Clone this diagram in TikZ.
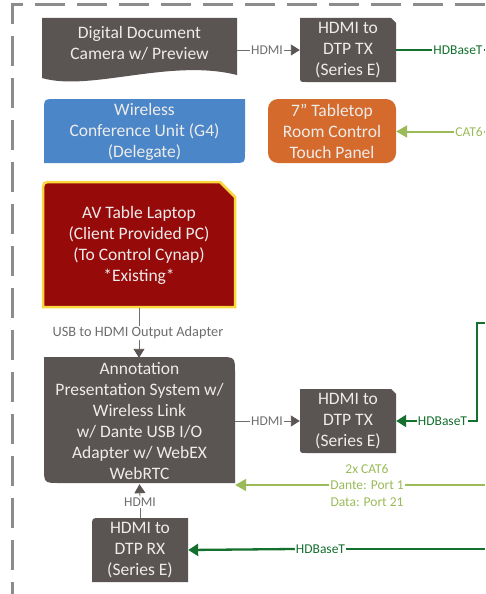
\documentclass[tikz,border=0pt]{standalone}
\usepackage{fontspec}
\setmainfont{Carlito}
\usetikzlibrary{arrows.meta,backgrounds}
\definecolor{boxgray}{RGB}{90,84,82}
\definecolor{boxblue}{RGB}{74,134,200}
\definecolor{boxorange}{RGB}{212,106,44}
\definecolor{boxred}{RGB}{150,10,10}
\definecolor{boxyellow}{RGB}{250,215,60}
\definecolor{boxtext}{RGB}{238,236,234}
\definecolor{labgray}{RGB}{110,110,110}
\definecolor{dgreen}{RGB}{20,112,45}
\definecolor{lgreen}{RGB}{155,187,89}
\definecolor{bordergray}{RGB}{140,140,140}
\tikzset{
  boxnode/.style={rectangle,inner sep=0pt,align=center,text=boxtext,
    font=\fontsize{17.5}{21}\selectfont},
  lab/.style={inner sep=1pt,text=labgray,font=\fontsize{13.5}{16.5}\selectfont},
  dglab/.style={inner sep=1pt,text=dgreen,font=\fontsize{13.5}{16.5}\selectfont},
  lglab/.style={inner sep=1pt,text=lgreen,font=\fontsize{13.5}{16.5}\selectfont},
  gline/.style={draw=labgray,line width=0.9pt},
  garrow/.style={gline,-{Triangle[length=9pt,width=11pt,color=boxgray]}},
  dgline/.style={draw=dgreen,line width=2.3pt},
  dgarrow/.style={dgline,-{Triangle[length=10pt,width=12pt]}},
  lgline/.style={draw=lgreen,line width=2pt},
  lgarrow/.style={lgline,-{Triangle[length=11pt,width=12pt]}},
  frame/.style={draw=bordergray,line width=3pt,dash pattern=on 30pt off 12pt}
}
\begin{document}
\begin{tikzpicture}[x=1pt,y=-1pt]
\useasboundingbox (0,0) rectangle (485,594);

% nodes
\node[boxnode,minimum width=195pt,minimum height=50pt] (cam) at (139.5,43) {Digital Document\\Camera w/ Preview};
\node[boxnode,minimum width=96pt,minimum height=64pt] (tx1) at (348,50) {HDMI to\\DTP TX\\(Series E)};
\node[boxnode,minimum width=201pt,minimum height=64pt] (wcu) at (144.5,132) {Wireless\\Conference Unit (G4)\\(Delegate)};
\node[boxnode,minimum width=128pt,minimum height=64pt] (tp) at (332,131.5) {7" Tabletop\\Room Control\\Touch Panel};
\node[boxnode,minimum width=192pt,minimum height=125pt] (laptop) at (139,245) {AV Table Laptop\\(Client Provided PC)\\(To Control Cynap)\\*Existing*};
\node[boxnode,minimum width=191pt,minimum height=126pt] (ann) at (139.5,421) {Annotation\\Presentation System w/\\Wireless Link\\w/ Dante USB I/O\\Adapter w/ WebEX\\WebRTC};
\node[boxnode,minimum width=96pt,minimum height=64pt] (tx2) at (348,421) {HDMI to\\DTP TX\\(Series E)};
\node[boxnode,minimum width=96pt,minimum height=64pt] (rx) at (140,550) {HDMI to\\DTP RX\\(Series E)};

% background and shapes behind the text
\begin{pgfonlayer}{background}
\fill[white] (0,0) rectangle (485,594);
\draw[frame] (485,5) -| (12,594);
\fill[boxgray] (42,18) -- (237,18) -- (237,75) .. controls (170,58) and (90,92) .. (42,78) -- cycle;
\fill[boxgray] (300,18) -- (391,18) -- (396,23) -- (396,82) -- (306,82) .. controls (300,82) .. (300,76) -- cycle;
\fill[boxblue] (44,111) .. controls (44,99) .. (56,99) -- (245,99) -- (245,151) .. controls (245,163) .. (233,163) -- (44,163) -- cycle;
\fill[boxorange,rounded corners=10pt] (268,99) rectangle (396,163);
\filldraw[fill=boxred,draw=boxyellow,line width=2.5pt] (43,192) .. controls (43,182) .. (53,182) -- (220,182) -- (235,197) -- (235,307) -- (43,307) -- cycle;
\fill[boxgray] (44,357) -- (219,357) .. controls (235,357) .. (235,373) -- (235,483) -- (60,483) .. controls (44,483) .. (44,467) -- cycle;
\fill[boxgray] (300,389) -- (391,389) -- (396,394) -- (396,453) -- (306,453) .. controls (300,453) .. (300,447) -- cycle;
\fill[boxgray] (92,526) .. controls (92,518) .. (100,518) -- (188,518) -- (188,582) -- (92,582) -- cycle;
\end{pgfonlayer}

% labels
\node[lab] (h1) at (267,50) {HDMI};
\node[dglab] (hb1) at (458,50) {HDBaseT};
\node[lglab] (cat) at (469,131.5) {CAT6};
\node[lab,font=\fontsize{14.3}{17}\selectfont] (usb) at (138,333) {USB to HDMI Output Adapter};
\node[lab] (h2) at (267,421) {HDMI};
\node[dglab] (hb2) at (442.5,421) {HDBaseT};
\node[lglab] (cat2) at (367,469) {2x CAT6};
\node[lglab] (dante) at (367,485) {Dante: Port 1};
\node[lglab] (data) at (367,502) {Data: Port 21};
\node[lab] (h3) at (140,502) {HDMI};
\node[dglab] (hb3) at (320.5,549) {HDBaseT};

\coordinate (e1) at (485,50);
\coordinate (e2) at (485,131.5);
\coordinate (e3) at (485,323);
\coordinate (k) at (477,323);
\coordinate (e4) at (485,485);
\coordinate (e5) at (485,549);

% connectors
\draw[gline] (cam.east |- tx1.west) -- (h1.west);
\draw[garrow] (h1.east) -- (tx1.west);
\draw[dgline] (tx1.east) -- (hb1.west);
\draw[dgline] (hb1.east) -- (e1);
\draw[lgline] (e2) -- (cat.east);
\draw[lgarrow] (cat.west) -- (tp.east);
\draw[gline] (laptop.south) -- (laptop.south |- usb.north);
\draw[garrow] (laptop.south |- usb.south) -- (laptop.south |- ann.north);
\draw[gline] (ann.east) -- (h2.west);
\draw[garrow] (h2.east) -- (tx2.west);
\draw[dgline] (e3) -- (k) |- (hb2.east);
\draw[dgarrow] (hb2.west) -- (tx2.east);
\draw[lgline] (e4) -- (dante.east);
\draw[lgarrow] (dante.west) -- (ann.east |- dante.west);
\draw[gline] (rx.north) -- (h3.south);
\draw[garrow] (h3.north) -- (ann.south);
\draw[dgline] (e5) -- (hb3.east);
\draw[dgarrow] (hb3.west) -- (rx.east);
\end{tikzpicture}
\end{document}
